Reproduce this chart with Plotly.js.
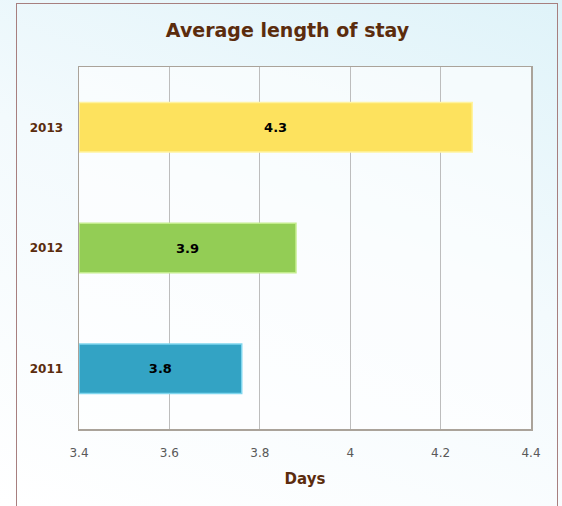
<!DOCTYPE html>
<html>
<head>
<meta charset="utf-8">
<script src="https://cdn.plot.ly/plotly-3.0.1.min.js"></script>
<style>
  html, body { margin:0; padding:0; width:562px; height:506px; overflow:hidden;
    background: linear-gradient(200deg, #dff3f9 0%, #f3fafd 45%, #ffffff 100%); }
  #frame { position:absolute; left:16px; top:3px; width:540px; height:540px;
    border:1px solid #a77f7f; pointer-events:none; z-index:5; }
  #chart { position:absolute; left:0; top:0; width:562px; height:506px; }
</style>
</head>
<body>
<div id="chart"></div>
<div id="frame"></div>
<script>
const years = ['2011', '2012', '2013'];
const days = [3.76, 3.88, 4.27];
const labels = ['3.8', '3.9', '4.3'];
const barColors = ['#33a3c4', '#93cd55', '#fde25e'];
const lineColors = ['#7fd6ee', '#c3ec8c', '#fff3a0'];
const xTicks = [3.4, 3.6, 3.8, 4, 4.2, 4.4];
const xTickText = ['3.4', '3.6', '3.8', '4', '4.2', '4.4'];
const axisMin = 3.4, axisMax = 4.4;

const FONT = 'DejaVu Sans, Verdana, sans-serif';

const trace = {
  type: 'bar',
  orientation: 'h',
  y: years,
  x: days.map(v => v - axisMin),
  text: labels,
  textposition: 'inside',
  insidetextanchor: 'middle',
  textfont: {family: FONT, size: 13, color: '#000000', weight: 'bold'},
  marker: {color: barColors, line: {color: lineColors, width: 1.5}},
  hoverinfo: 'none'
};

const layout = {
  width: 562, height: 506,
  margin: {l: 79, r: 31, t: 67, b: 77},
  paper_bgcolor: 'rgba(0,0,0,0)',
  plot_bgcolor: 'rgba(255,255,255,0.6)',
  showlegend: false,
  bargap: 0.59,
  title: {text: 'Average length of stay', x: 0.5116, xref: 'container', xanchor: 'center',
    y: 0.941, yref: 'container', yanchor: 'middle',
    font: {family: FONT, size: 19, color: '#5b2c0d', weight: 'bold'}},
  xaxis: {
    range: [0, axisMax - axisMin], tickvals: xTicks.map(v => v - axisMin), ticktext: xTickText,
    showgrid: true, gridcolor: '#bdbdbd', gridwidth: 1,
    showline: true, mirror: true, linecolor: '#aaa39a', linewidth: 1.5,
    zeroline: false, ticks: 'outside', ticklen: 12, tickcolor: 'rgba(0,0,0,0)',
    tickfont: {family: FONT, size: 12, color: '#595959'},
    title: {text: 'Days', standoff: 14,
      font: {family: FONT, size: 15, color: '#5b2c0d', weight: 'bold'}}
  },
  yaxis: {
    type: 'category', categoryorder: 'array', categoryarray: years,
    showgrid: false, showline: true, mirror: true, linecolor: '#aaa39a', linewidth: 1.5,
    ticks: 'outside', ticklen: 12, tickcolor: 'rgba(0,0,0,0)',
    tickfont: {family: FONT, size: 12, color: '#5b2c0d', weight: 'bold'}
  }
};

Plotly.newPlot('chart', [trace], layout, {displayModeBar: false, staticPlot: true});
</script>
</body>
</html>
